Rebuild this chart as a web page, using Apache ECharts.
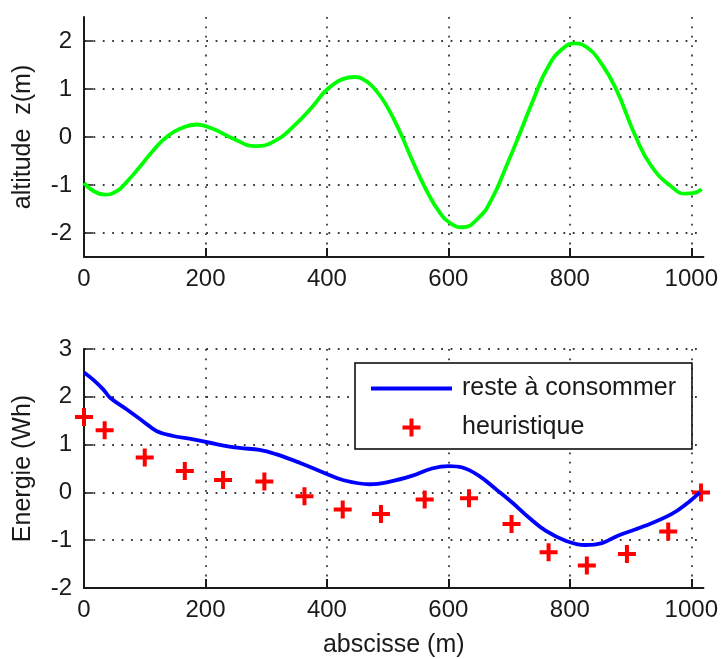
<!DOCTYPE html>
<html>
<head>
<meta charset="utf-8">
<script src="https://cdn.jsdelivr.net/npm/echarts@6/dist/echarts.min.js"></script>
<style>
  html, body { margin: 0; padding: 0; background: #ffffff; }
  #chart { width: 721px; height: 659px; }
</style>
</head>
<body>
<div id="chart"></div>
<script>
// Tick positions
const xTicks = [0, 200, 400, 600, 800, 1000];
const altTicks = [-2, -1, 0, 1, 2];
const energyTicks = [-2, -1, 0, 1, 2, 3];

// Road profile: abscissa (m) and altitude z (m)
const profileX = [0, 15, 34, 55, 70, 92, 114, 136, 158, 185, 212, 245, 283, 316, 344, 376, 396, 409, 425, 445, 464, 480,
  497, 519, 541, 563, 585, 605, 623, 650, 672, 694, 716, 738, 765, 790, 809, 830, 847, 875, 908, 935,
  968, 990, 1003, 1017];
const profileZ = [-0.96, -1.12, -1.20, -1.12, -0.94, -0.62, -0.28, 0.00, 0.17, 0.26, 0.17, -0.03, -0.19, -0.07, 0.21, 0.63, 0.94, 1.08, 1.20, 1.25, 1.17, 0.98,
  0.68, 0.14, -0.50, -1.09, -1.56, -1.81, -1.88, -1.68, -1.28, -0.65, 0.02, 0.72, 1.48, 1.86, 1.95, 1.85, 1.62, 1.03, 0.02, -0.62,
  -1.04, -1.18, -1.17, -1.09];

// Remaining energy to consume (Wh)
const remainX = [0, 15, 32, 43, 70, 97, 120, 147, 180, 218, 256, 289, 316, 355, 393, 426, 470, 502, 541, 573,
  601, 623, 650, 678, 705, 732, 760, 793, 825, 853, 880, 924, 968, 995, 1014];
const remainE = [2.51, 2.36, 2.15, 1.98, 1.74, 1.49, 1.28, 1.18, 1.11, 1.01, 0.93, 0.89, 0.80, 0.62, 0.42, 0.26, 0.17, 0.22, 0.35, 0.50,
  0.55, 0.52, 0.35, 0.07, -0.21, -0.52, -0.80, -1.01, -1.10, -1.06, -0.90, -0.70, -0.45, -0.21, 0.00];

// Heuristic estimate (Wh)
const heurX = [0, 34, 100, 166, 229, 297, 363, 426, 489, 561, 634, 704, 765, 828, 894, 962, 1016];
const heurE = [1.58, 1.30, 0.73, 0.45, 0.26, 0.23, -0.08, -0.36, -0.45, -0.15, -0.12, -0.66, -1.25, -1.53, -1.29, -0.82, 0.00];

const FONT = "'Liberation Sans', Arial, Helvetica, sans-serif";
const INK = '#1a1a1a';
const gridDots = { color: '#3a3a3a', width: 1.8, type: [1.8, 7.6] };
const PLUS = 'path://M7,0H11V18H7ZM0,7H18V11H0Z';

function pairs(xs, ys) { return xs.map((x, i) => [x, ys[i]]); }

function xAxisFor(gridIndex, name) {
  return {
    type: 'value', gridIndex: gridIndex, min: 0, max: 1020,
    name: name, nameLocation: 'middle', nameGap: 45,
    nameTextStyle: { fontFamily: FONT, fontSize: 25, color: INK },
    axisLine: { show: true, onZero: false, lineStyle: { color: INK, width: 2 } },
    axisTick: { show: true, inside: true, length: 9, customValues: xTicks, lineStyle: { color: INK, width: 2 } },
    axisLabel: { customValues: xTicks, formatter: v => String(v), margin: 10, fontFamily: FONT, fontSize: 24, color: INK },
    splitLine: { show: true, lineStyle: gridDots }
  };
}

function yAxisFor(gridIndex, name, min, max, ticks) {
  return {
    type: 'value', gridIndex: gridIndex, min: min, max: max,
    name: name, nameLocation: 'middle', nameGap: 48, nameRotate: 90,
    nameTextStyle: { fontFamily: FONT, fontSize: 25, color: INK },
    axisLine: { show: true, onZero: false, lineStyle: { color: INK, width: 2 } },
    axisTick: { show: true, inside: true, length: 9, customValues: ticks, lineStyle: { color: INK, width: 1.5 } },
    axisLabel: { customValues: ticks, formatter: v => String(v), margin: 12, fontFamily: FONT, fontSize: 24, color: INK },
    splitLine: { show: true, lineStyle: gridDots }
  };
}

const chart = echarts.init(document.getElementById('chart'), null, { renderer: 'canvas' });
chart.setOption({
  animation: false,
  backgroundColor: '#ffffff',
  grid: [
    { left: 84, top: 17, width: 621, height: 240 },
    { left: 84, top: 349, width: 621, height: 240 }
  ],
  xAxis: [xAxisFor(0, ''), xAxisFor(1, 'abscisse (m)')],
  yAxis: [
    yAxisFor(0, 'altitude  z(m)', -2.5, 2.5, altTicks),
    yAxisFor(1, 'Energie (Wh)', -2, 3, energyTicks)
  ],
  legend: {
    left: 355, top: 363, orient: 'vertical',
    selectedMode: false,
    padding: [13, 16, 9, 16],
    itemGap: 14, itemWidth: 81, itemHeight: 18,
    backgroundColor: '#ffffff', borderColor: '#000000', borderWidth: 1.5,
    textStyle: { fontFamily: FONT, fontSize: 25, color: INK, padding: [0, 0, 0, 5] },
    data: [
      { name: 'reste à consommer', icon: 'path://M0,0H81V4H0Z' },
      { name: 'heuristique', icon: PLUS }
    ]
  },
  series: [
    {
      name: 'altitude', type: 'line', xAxisIndex: 0, yAxisIndex: 0,
      data: pairs(profileX, profileZ), symbol: 'none', smooth: 0.5,
      lineStyle: { color: '#00ff00', width: 3.8 }, itemStyle: { color: '#00ff00' }
    },
    {
      name: 'reste à consommer', type: 'line', xAxisIndex: 1, yAxisIndex: 1,
      data: pairs(remainX, remainE), symbol: 'none', smooth: 0.4,
      lineStyle: { color: '#0000ff', width: 3.8 }, itemStyle: { color: '#0000ff' }
    },
    {
      name: 'heuristique', type: 'scatter', xAxisIndex: 1, yAxisIndex: 1,
      data: pairs(heurX, heurE), clip: false,
      symbol: PLUS, symbolSize: 18,
      itemStyle: { color: '#ff0000', opacity: 1 }
    }
  ]
});
</script>
</body>
</html>
